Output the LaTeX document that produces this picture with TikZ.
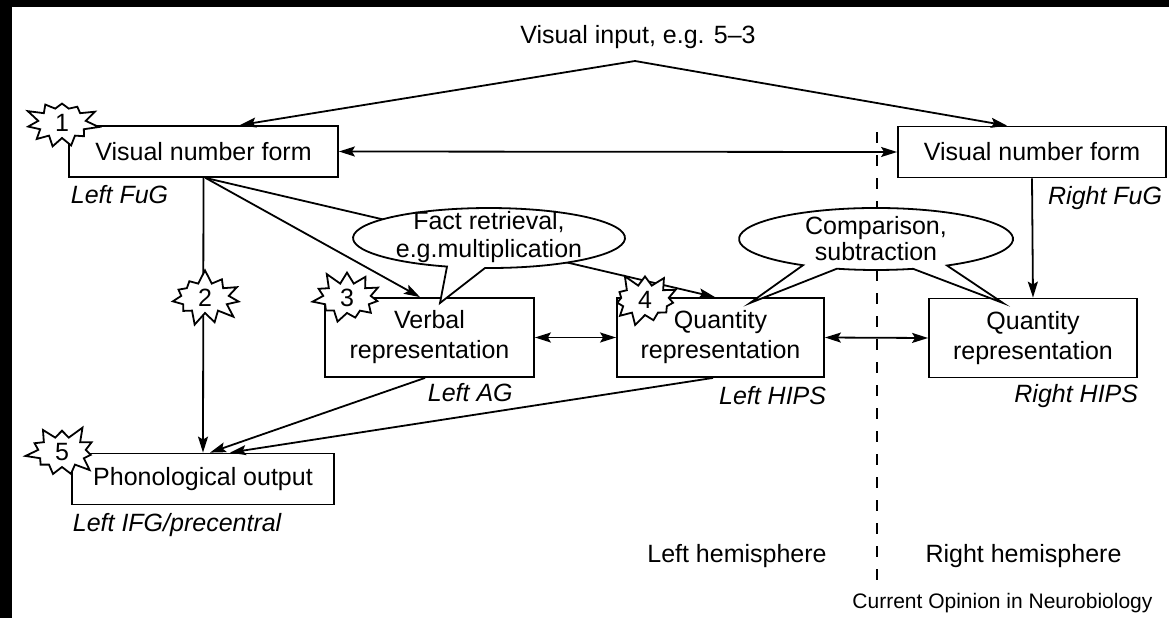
\documentclass[tikz,border=0pt]{standalone}
\usepackage{fontspec}
\setmainfont{Liberation Sans}
\usetikzlibrary{shapes.symbols,arrows.meta}

\begin{document}
\begin{tikzpicture}[x=0.5pt,y=0.5pt,
    font=\fontsize{12.5}{15}\selectfont,
    line width=0.9pt,
    box/.style={draw,fill=white,inner sep=0pt,align=center,minimum height=25.5pt},
    tall/.style={box,minimum height=39.5pt},
    lbl/.style={font=\fontsize{12.5}{15}\selectfont\itshape,inner sep=0pt},
    burst/.style={starburst,draw,fill=white,starburst points=11,starburst point height=7pt,
        minimum width=38pt,minimum height=29pt,inner sep=0pt},
    bubble/.style={draw,fill=white},
    arr/.style={-{Stealth[length=8pt,width=5pt,inset=1.5pt]}},
    dbl/.style={{Stealth[length=8pt,width=5pt,inset=1.5pt]}-{Stealth[length=8pt,width=5pt,inset=1.5pt]}}]
    % page and frame
    \fill[white] (0,0) rectangle (1169,618);
    \fill[black] (0,611) rectangle (1169,618);
    \fill[black] (0,0) rectangle (12,618);
    \useasboundingbox (0,0) rectangle (1169,618);

    % hemisphere border
    \draw[dash pattern=on 5.5pt off 6pt] (877,486) -- (877,36);

    % boxes
    \node[box,minimum width=134.5pt] (vnfL) at (203.5,466.5) {Visual number form};
    \node[box,minimum width=134pt] (vnfR) at (1032,466) {Visual number form};
    \node[tall,minimum width=104.5pt] (verbal) at (429.5,280.5) {Verbal\\representation};
    \node[tall,minimum width=103.5pt] (quantL) at (720.5,280.5) {Quantity\\representation};
    \node[tall,minimum width=104pt] (quantR) at (1033,280) {Quantity\\representation};
    \node[box,minimum width=131pt] (phon) at (203,139) {Phonological output};

    \node (vis) at (638,581) {Visual input, e.g. 5--3};
    \coordinate (input) at (635,557);

    % labels
    \node[lbl,anchor=west] (lfug) at (70,423) {Left FuG};
    \node[lbl,anchor=east] (rfug) at (1163,420) {Right FuG};
    \node[lbl,anchor=west] (lag) at (427,225) {Left AG};
    \node[lbl,anchor=east] (lhips) at (827,222) {Left HIPS};
    \node[lbl,anchor=east] (rhips) at (1139,222) {Right HIPS};
    \node[lbl,anchor=west] (lifg) at (72,93) {Left IFG/precentral};
    \node (lhem) at (737,62) {Left hemisphere};
    \node (rhem) at (1023.5,62) {Right hemisphere};
    \node[anchor=east,font=\fontsize{10.5}{12}\selectfont] (src) at (1160,15) {Current Opinion in Neurobiology};

    % connections
    \draw[arr] (input) -- ([xshift=18.25pt]vnfL.north);
    \draw[arr] (input) -- ([xshift=-12.5pt]vnfR.north);
    \draw[dbl] (vnfL.east) -- (vnfR.west);
    \draw[arr] (vnfL.south) -- (phon.north);
    \draw[arr] ([xshift=1pt]vnfL.south) -- ([xshift=-4.75pt]verbal.north);
    \draw[arr] ([xshift=1pt]vnfL.south) -- ([xshift=-2.75pt]quantL.north);
    \draw[arr] (vnfR.south) -- (quantR.north);
    \draw[dbl] (verbal.east) -- (quantL.west);
    \draw[dbl] (quantL.east) -- (quantR.west);
    \draw[arr] ([xshift=-2.25pt]verbal.south) -- ([xshift=3.5pt]phon.north);
    \draw[arr] ([xshift=-3.75pt]quantL.south) -- ([xshift=13.5pt]phon.north);

    % speech bubbles
    \filldraw[bubble] (485,350) arc[start angle=268.3, end angle=612, x radius=136, y radius=30]
        -- (440,315) -- cycle;
    \node[align=center,font=\fontsize{12.5}{14}\selectfont] (fact) at (489,381) {Fact retrieval,\\e.g.multiplication};
    \filldraw[bubble] (947,352.5) arc[start angle=301.2, end angle=597.8, x radius=137, y radius=31]
        -- (750,315) -- (836.9,349.3) arc[start angle=253.4, end angle=285.7, x radius=137, y radius=31]
        -- (1003,315) -- cycle;
    \node[align=center,font=\fontsize{12.5}{13}\selectfont] (comp) at (876,379) {Comparison,\\subtraction};

    % stars
    \node[burst,random starburst=3] (s1) at (62,495) {1};
    \node[burst,random starburst=7] (s2) at (205,320) {2};
    \node[burst,random starburst=11] (s3) at (347,320) {3};
    \node[burst,random starburst=5] (s4) at (645,318) {4};
    \node[burst,random starburst=9] (s5) at (62,166) {5};
\end{tikzpicture}
\end{document}
